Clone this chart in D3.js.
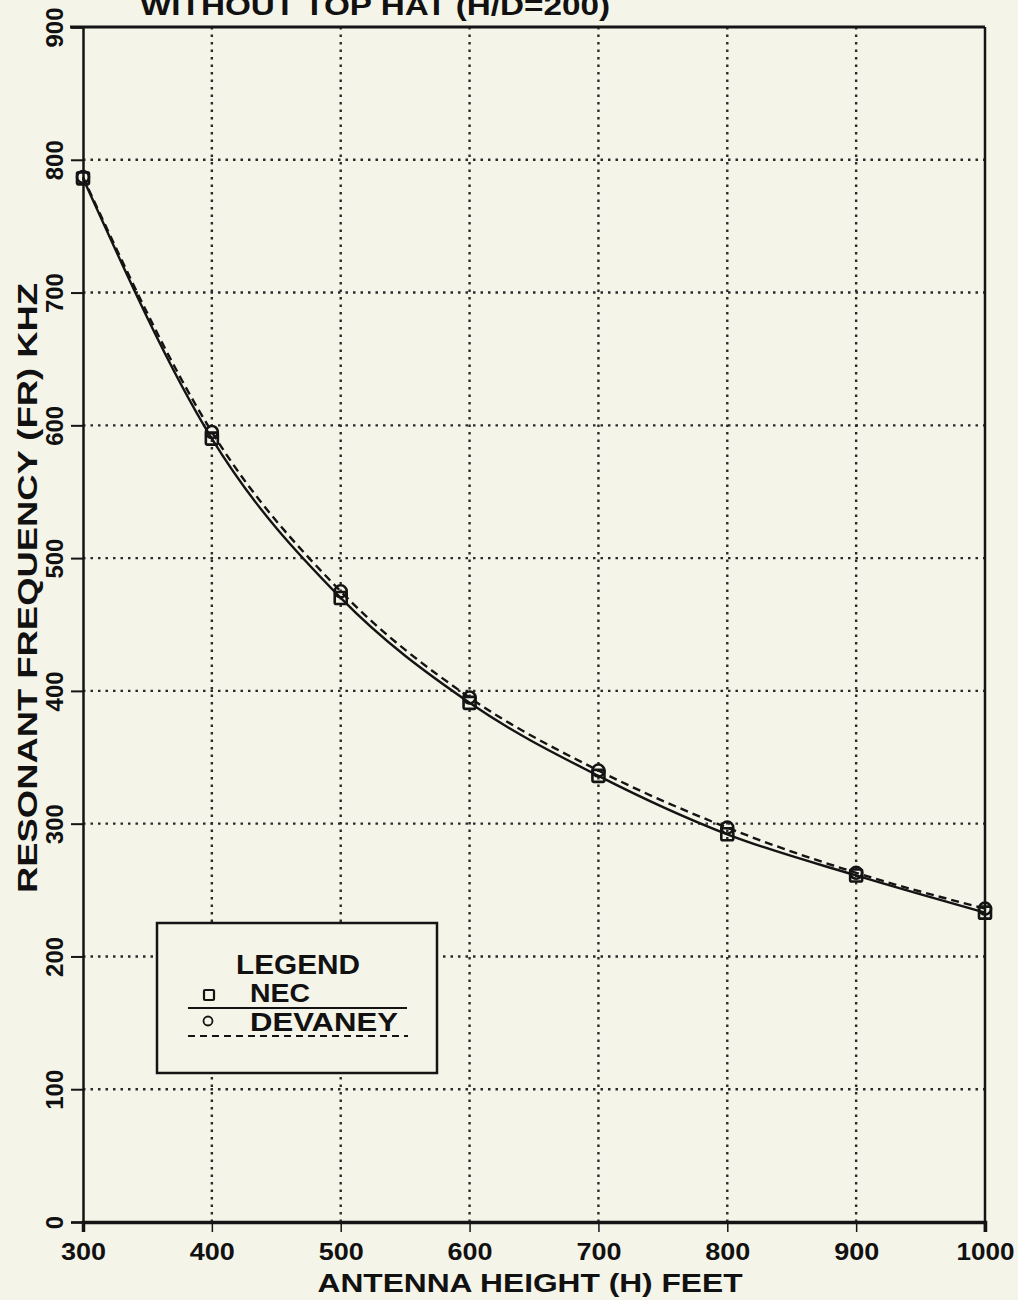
<!DOCTYPE html>
<html>
<head>
<meta charset="utf-8">
<script src="https://cdn.jsdelivr.net/npm/d3@7"></script>
<style>
  html, body { margin: 0; padding: 0; background: #f5f4e8; }
  svg { display: block; }
  text { font-family: "Liberation Sans", Arial, Helvetica, sans-serif; font-weight: bold; fill: #111; }
</style>
</head>
<body>
<svg id="chart" width="1018" height="1300"></svg>
<script>
// Antenna heights (feet) and resonant frequency results (kHz)
const heights = [300, 400, 500, 600, 700, 800, 900, 1000];
const necFreq = [786, 590, 470, 391, 336, 292, 261, 233];
const devaneyFreq = [787, 595, 475, 395, 340, 297, 263, 236];

const xTicks = [300, 400, 500, 600, 700, 800, 900, 1000];
const yTicks = [0, 100, 200, 300, 400, 500, 600, 700, 800, 900];

const titleText = "WITHOUT TOP HAT (H/D=200)";
const xTitle = "ANTENNA HEIGHT (H) FEET";
const yTitle = "RESONANT FREQUENCY (FR) KHZ";

const svg = d3.select("#chart");
const ink = "#141414";

const x = d3.scaleLinear().domain([300, 1000]).range([83, 985]);
const y = d3.scaleLinear().domain([0, 900]).range([1222, 27]);

// Title, partly clipped at the top edge
svg.append("text")
  .attr("x", 140).attr("y", 15)
  .attr("font-size", 28)
  .attr("textLength", 470).attr("lengthAdjust", "spacingAndGlyphs")
  .text(titleText);

// Dotted grid
const grid = svg.append("g").attr("stroke", "#2a2a2a").attr("stroke-width", 2.4)
  .attr("stroke-dasharray", "2.5,5").attr("stroke-linecap", "butt");
grid.selectAll("line.v").data(xTicks.filter(d => d > 300 && d < 1000)).enter().append("line")
  .attr("x1", d => x(d)).attr("x2", d => x(d))
  .attr("y1", y(900)).attr("y2", y(0));
grid.selectAll("line.h").data(yTicks.filter(d => d > 0 && d < 900)).enter().append("line")
  .attr("x1", x(300)).attr("x2", x(1000))
  .attr("y1", d => y(d)).attr("y2", d => y(d));

// Axes
const xAxis = d3.axisBottom(x).tickValues(xTicks).tickSize(10).tickFormat(d3.format("d"));
const gx = svg.append("g").attr("transform", `translate(0,${y(0)})`).call(xAxis);
gx.select(".domain").attr("stroke", ink).attr("stroke-width", 3.5);
gx.selectAll(".tick line").attr("stroke", ink).attr("stroke-width", 1.5);
gx.selectAll(".tick text")
  .attr("y", 38).attr("dy", 0)
  .attr("font-size", 24)
  .attr("textLength", 45).attr("lengthAdjust", "spacingAndGlyphs")
  .style("font-family", "'Liberation Sans', Arial, sans-serif")
  .style("font-weight", "bold").attr("fill", ink);
gx.selectAll(".tick").filter(d => d === 1000).select("text")
  .attr("textLength", 58);

const yAxis = d3.axisLeft(y).tickValues(yTicks).tickSize(12).tickFormat(d3.format("d"));
const gy = svg.append("g").attr("transform", `translate(${x(300)},0)`).call(yAxis);
gy.select(".domain").attr("stroke", ink).attr("stroke-width", 2.5);
gy.selectAll(".tick line").attr("stroke", ink).attr("stroke-width", 2);
gy.selectAll(".tick text")
  .attr("x", 0).attr("dy", 0)
  .attr("text-anchor", "middle")
  .attr("transform", "translate(-20,0) rotate(-90)")
  .attr("font-size", 24)
  .style("font-family", "'Liberation Sans', Arial, sans-serif")
  .style("font-weight", "bold").attr("fill", ink);
gy.selectAll(".tick").filter(d => d > 0).select("text")
  .attr("textLength", 40).attr("lengthAdjust", "spacingAndGlyphs");

// Top and right frame
svg.append("line").attr("x1", 70).attr("x2", x(1000))
  .attr("y1", y(900)).attr("y2", y(900))
  .attr("stroke", ink).attr("stroke-width", 3);
svg.append("line").attr("x1", x(1000)).attr("x2", x(1000))
  .attr("y1", y(900)).attr("y2", y(0) + 10)
  .attr("stroke", ink).attr("stroke-width", 2.5);

// Axis titles
svg.append("text")
  .attr("x", (x(300) + x(1000)) / 2 - 4).attr("y", 1292)
  .attr("text-anchor", "middle")
  .attr("font-size", 26)
  .attr("textLength", 425).attr("lengthAdjust", "spacingAndGlyphs")
  .text(xTitle);

svg.append("text")
  .attr("transform", "translate(37,588) rotate(-90)")
  .attr("text-anchor", "middle")
  .attr("font-size", 28)
  .attr("textLength", 610).attr("lengthAdjust", "spacingAndGlyphs")
  .text(yTitle);

// Curves
const curve = d3.line().x((d, i) => x(heights[i])).y(d => y(d)).curve(d3.curveMonotoneX);
svg.append("path").datum(necFreq).attr("d", curve)
  .attr("fill", "none").attr("stroke", ink).attr("stroke-width", 2.4);
svg.append("path").datum(devaneyFreq).attr("d", curve)
  .attr("fill", "none").attr("stroke", ink).attr("stroke-width", 2.4)
  .attr("stroke-dasharray", "8,5");

// Markers
const sq = 12;
svg.append("g").selectAll("rect").data(necFreq).enter().append("rect")
  .attr("x", (d, i) => x(heights[i]) - sq / 2)
  .attr("y", d => y(d) - sq / 2)
  .attr("width", sq).attr("height", sq).attr("rx", 1.5)
  .attr("fill", "none").attr("stroke", ink).attr("stroke-width", 2.6);
svg.append("g").selectAll("circle").data(devaneyFreq).enter().append("circle")
  .attr("cx", (d, i) => x(heights[i]))
  .attr("cy", d => y(d))
  .attr("r", 6)
  .attr("fill", "none").attr("stroke", ink).attr("stroke-width", 2.6);

// Legend
const lg = svg.append("g");
lg.append("rect").attr("x", 157).attr("y", 923).attr("width", 280).attr("height", 150)
  .attr("fill", "#f5f4e8").attr("stroke", ink).attr("stroke-width", 2.5);
lg.append("text").attr("x", 236).attr("y", 974).attr("font-size", 27)
  .attr("textLength", 124).attr("lengthAdjust", "spacingAndGlyphs").text("LEGEND");
lg.append("rect").attr("x", 204).attr("y", 990).attr("width", 10).attr("height", 10).attr("rx", 1)
  .attr("fill", "none").attr("stroke", ink).attr("stroke-width", 2.2);
lg.append("text").attr("x", 250).attr("y", 1002).attr("font-size", 25)
  .attr("textLength", 60).attr("lengthAdjust", "spacingAndGlyphs").text("NEC");
lg.append("line").attr("x1", 188).attr("x2", 407).attr("y1", 1008).attr("y2", 1008)
  .attr("stroke", ink).attr("stroke-width", 2.2);
lg.append("circle").attr("cx", 208).attr("cy", 1021).attr("r", 4.5)
  .attr("fill", "none").attr("stroke", ink).attr("stroke-width", 1.8);
lg.append("text").attr("x", 250).attr("y", 1031).attr("font-size", 25)
  .attr("textLength", 148).attr("lengthAdjust", "spacingAndGlyphs").text("DEVANEY");
lg.append("line").attr("x1", 188).attr("x2", 408).attr("y1", 1036).attr("y2", 1036)
  .attr("stroke", ink).attr("stroke-width", 2.2).attr("stroke-dasharray", "7,5");
</script>
</body>
</html>
